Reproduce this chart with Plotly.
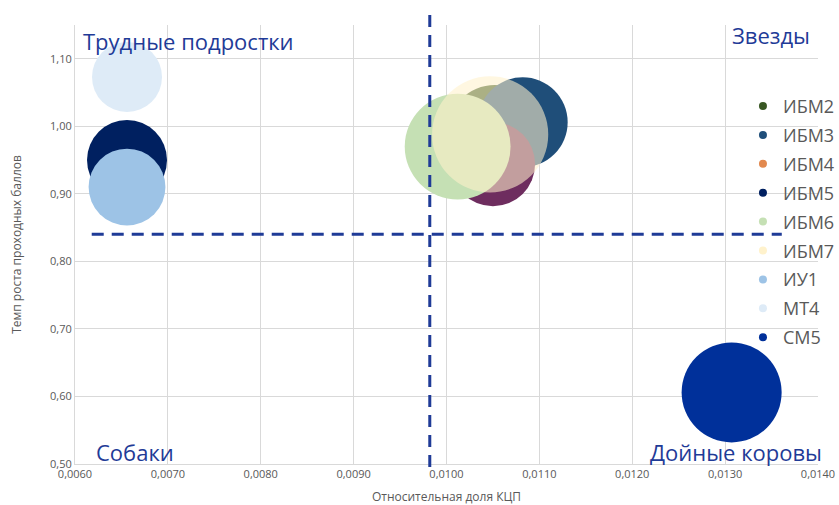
import plotly.graph_objects as go

# ---- data ----
series = ["ИБМ2", "ИБМ3", "ИБМ4", "ИБМ5", "ИБМ6", "ИБМ7", "ИУ1", "МТ4", "СМ5"]
share_kcp = [0.01052, 0.01082, 0.01050, 0.00656, 0.01012, 0.01047, 0.00656, 0.00656, 0.01307]
growth = [0.990, 1.006, 0.944, 0.950, 0.970, 0.988, 0.910, 1.073, 0.606]
bubble_size = [92, 81, 71, 64, 112, 135, 59, 49, 100]

x_divider = 0.00982
y_divider = 0.84

x_ticks = [0.006, 0.007, 0.008, 0.009, 0.010, 0.011, 0.012, 0.013, 0.014]
y_ticks = [0.5, 0.6, 0.7, 0.8, 0.9, 1.0, 1.1]

# ---- styles ----
bubble_colors = ["#385723", "#1F4E79", "#6E2D5F", "#002060", "#C5E0B4",
                 "#FFF2CC", "#9DC3E6", "#DEEBF7", "#00309A"]
legend_colors = ["#385723", "#1F4E79", "#E2894F", "#002060", "#C5E0B4",
                 "#FFF2CC", "#9DC3E6", "#DEEBF7", "#00309A"]
bubble_opacity = [1, 1, 1, 1, 1, 0.58, 1, 1, 1]
accent = "#1F3B97"
FONT = "Open Sans"

fig = go.Figure()
for i, name in enumerate(series):
    fig.add_trace(go.Scatter(
        x=[share_kcp[i]], y=[growth[i]], mode="markers", name=name,
        legendgroup=name, showlegend=False,
        marker=dict(size=[bubble_size[i]], sizemode="area", sizeref=0.02,
                    color=bubble_colors[i], opacity=bubble_opacity[i],
                    line=dict(width=0)),
        hoverinfo="skip"))
for i, name in enumerate(series):
    fig.add_trace(go.Scatter(
        x=[None], y=[None], mode="markers", name=name, legendgroup=name,
        showlegend=True,
        marker=dict(size=8, color=legend_colors[i], line=dict(width=0))))

# dividers
fig.add_shape(type="line", xref="x", yref="paper", x0=x_divider, x1=x_divider,
              y0=-0.007, y1=1.03, layer="above",
              line=dict(color=accent, width=3, dash="12px,8px"))
fig.add_shape(type="line", xref="x", yref="y", x0=0.00618, x1=0.01361,
              y0=y_divider, y1=y_divider, layer="above",
              line=dict(color=accent, width=3, dash="12px,8px"))

quad = [
    ("Трудные подростки", 0.008, 0.964, "left"),
    ("Звезды", 0.992, 0.977, "right"),
    ("Собаки", 0.025, 0.027, "left"),
    ("Дойные коровы", 1.008, 0.027, "right"),
]
for text, ax, ay, anc in quad:
    fig.add_annotation(text=text, xref="paper", yref="paper", x=ax, y=ay,
                       xanchor=anc, yanchor="middle", showarrow=False,
                       font=dict(family=FONT, size=22, color=accent))

grid = "#D9D9D9"
fig.update_layout(
    width=839, height=505,
    margin=dict(l=75, r=21, t=25, b=41, autoexpand=False),
    paper_bgcolor="white", plot_bgcolor="white",
    separators=", ",
    font=dict(family=FONT, color="#595959"),
    legend=dict(x=0.899, y=0.857, xanchor="left", yanchor="top",
                bgcolor="rgba(0,0,0,0)", tracegroupgap=2.5, itemwidth=30,
                font=dict(family=FONT, size=18, color="#595959")),
    xaxis=dict(range=[0.006, 0.014], tickvals=x_ticks, tickformat=".4f",
               automargin=False,
               showgrid=True, gridcolor=grid, gridwidth=1,
               showline=True, linecolor=grid, linewidth=1, zeroline=False,
               ticks="", tickfont=dict(size=11, color="#595959"),
               title=dict(text="Относительная доля КЦП", standoff=20,
                          font=dict(size=12, color="#595959"))),
    yaxis=dict(range=[0.5, 1.15], tickvals=y_ticks, tickformat=".2f",
               automargin=False,
               showgrid=True, gridcolor=grid, gridwidth=1,
               showline=True, linecolor=grid, linewidth=1, zeroline=False,
               ticks="", tickfont=dict(size=11, color="#595959"),
               title=dict(text="Темп роста проходных баллов", standoff=25,
                          font=dict(size=12, color="#595959"))),
)

fig.write_html("out.html")
